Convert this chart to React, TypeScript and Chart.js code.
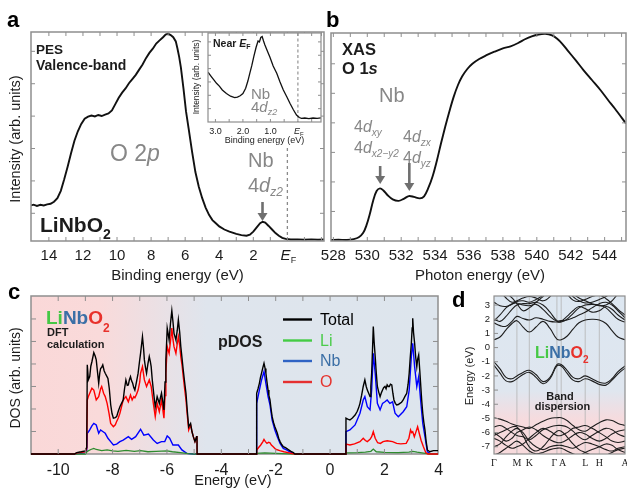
import React, { useEffect, useRef } from 'react';
import { Chart, registerables } from 'chart.js';

Chart.register(...registerables);

const W = 627;
const H = 494;
const SANS = '"Liberation Sans", Arial, Helvetica, sans-serif';
const SERIF = '"Liberation Serif", "Times New Roman", serif';
const INK = '#1c1c1c';
const GRAYTXT = '#878787';
const FRAME = '#8e8e8e';

type P = [number, number];

// ---------------- Panel a: PES valence band (binding energy eV, intensity) ----------------
const pesValence: P[] = [
  [15.05, 17.0], [14.9, 17.4], [14.7, 16.8], [14.5, 17.3], [14.3, 17.0], [14.1, 17.5], [13.9, 17.8],
  [13.7, 18.8], [13.5, 20.5], [13.3, 24], [13.1, 29.5], [12.9, 35.5], [12.7, 42], [12.5, 48],
  [12.3, 52.5], [12.1, 56], [11.9, 58.5], [11.7, 59.5], [11.5, 60], [11.3, 59.6], [11.1, 60.3],
  [10.9, 59.8], [10.7, 60.5], [10.5, 61], [10.3, 62.5], [10.1, 65.5], [9.9, 68.5], [9.7, 71],
  [9.5, 73], [9.3, 75.5], [9.1, 77.5], [8.9, 79.5], [8.7, 82], [8.5, 84.5], [8.3, 87.5], [8.1, 90],
  [7.9, 92], [7.7, 94.5], [7.5, 96], [7.3, 97.5], [7.15, 98.8], [7.0, 99.2], [6.85, 98.5], [6.7, 97.5],
  [6.55, 95.5], [6.45, 92], [6.35, 88], [6.25, 83], [6.1, 73], [5.95, 62], [5.8, 54], [5.6, 43],
  [5.4, 33], [5.2, 26], [5.0, 20.5], [4.8, 16], [4.6, 12.5], [4.4, 10], [4.2, 8.5], [4.0, 7],
  [3.7, 5.5], [3.4, 4.5], [3.0, 3.4], [2.7, 2.8], [2.4, 2.5], [2.2, 3.0], [2.0, 4.5], [1.8, 6.5],
  [1.6, 8.5], [1.45, 9.2], [1.3, 8.8], [1.1, 7.2], [0.9, 5.5], [0.7, 3.8], [0.5, 2.5], [0.3, 1.5],
  [0.1, 1.0], [-0.2, 0.7], [-0.6, 0.8], [-1.0, 0.6], [-1.4, 0.8], [-1.8, 0.6], [-2.15, 0.7],
];
const aTickLabels = [14, 12, 10, 8, 6, 4, 2];

// Inset: near E_F
const pesNearEF: P[] = [
  [3.27, 56], [3.15, 51], [3.05, 47], [2.96, 43.5], [2.85, 40], [2.75, 36], [2.6, 32], [2.45, 29],
  [2.3, 27.5], [2.2, 28], [2.1, 29.5], [2.0, 32], [1.9, 38], [1.82, 46], [1.75, 54.7], [1.68, 63],
  [1.6, 74], [1.52, 84], [1.45, 91], [1.4, 90], [1.35, 95], [1.3, 96], [1.25, 91], [1.2, 86.5],
  [1.1, 79], [1.02, 73], [0.9, 63], [0.77, 54.7], [0.65, 45], [0.53, 36], [0.4, 28], [0.29, 21],
  [0.17, 14], [0.05, 7.9], [-0.05, 5], [-0.13, 4], [-0.25, 4.5], [-0.4, 3.8], [-0.55, 4.5],
  [-0.7, 4], [-0.84, 4.6],
];
const insetTickLabels = [3, 2, 1];

// ---------------- Panel b: XAS O 1s ----------------
const xasO1s: P[] = [
  [527.86, 0.5], [528.3, 0.6], [528.8, 0.5], [529.2, 0.9], [529.5, 1.8], [529.75, 3.8], [529.95, 7.5],
  [530.15, 13], [530.35, 19.5], [530.55, 24], [530.75, 25.3], [530.95, 24.3], [531.2, 22], [531.5, 20],
  [531.85, 19.3], [532.15, 20.3], [532.45, 21.6], [532.75, 21.2], [533.1, 20.5], [533.35, 21.5],
  [533.6, 25.5], [533.85, 31], [534.1, 38.5], [534.35, 47], [534.6, 55], [534.85, 62.5], [535.1, 69.4],
  [535.35, 75], [535.6, 79.2], [535.9, 82.7], [536.2, 85.2], [536.6, 87.5], [537.0, 89.2], [537.5, 91],
  [538.0, 92.6], [538.45, 93.6], [538.9, 95.2], [539.3, 97], [539.7, 98.4], [540.1, 99.3], [540.5, 99.6],
  [540.9, 98.8], [541.2, 97.2], [541.5, 94.8], [541.8, 91.8], [542.3, 86.8], [542.75, 82.2],
  [543.25, 77.4], [543.75, 72.6], [544.2, 67.8], [544.6, 63.7], [545.26, 56.5],
];
const bTickLabels = [528, 530, 532, 534, 536, 538, 540, 542, 544];

// ---------------- Panel c: DFT pDOS ----------------
const dosTotal: P[] = [
  [-11, 0], [-9.4, 0], [-9.32, 0.06], [-9.15, 0.1], [-9.0, 0.14], [-8.95, 0.3], [-8.93, 3.96], [-8.89, 3.3],
  [-8.84, 3.44], [-8.8, 3.9], [-8.76, 4.1], [-8.69, 4.5], [-8.64, 4.35], [-8.6, 4.18], [-8.55, 3.6],
  [-8.51, 3.14], [-8.47, 3.6], [-8.44, 3.8], [-8.4, 3.85], [-8.36, 3.96], [-8.31, 3.7], [-8.27, 3.59],
  [-8.21, 3.45], [-8.17, 3.36], [-8.12, 2.9], [-8.07, 2.2], [-8.02, 1.8], [-7.97, 1.59], [-7.9, 1.62],
  [-7.85, 1.66], [-7.79, 1.9], [-7.73, 2.1], [-7.67, 2.25], [-7.61, 2.4], [-7.56, 2.9], [-7.51, 3.29],
  [-7.46, 3.05], [-7.42, 3.07], [-7.38, 3.3], [-7.34, 3.44], [-7.3, 3.25], [-7.26, 3.14], [-7.22, 2.95],
  [-7.18, 2.84], [-7.12, 3.2], [-7.06, 3.59], [-7.01, 4.1], [-6.97, 4.47], [-6.93, 4.9], [-6.9, 5.21],
  [-6.86, 4.7], [-6.83, 4.18], [-6.79, 3.85], [-6.75, 3.59], [-6.7, 4.0], [-6.65, 4.33], [-6.61, 4.1],
  [-6.58, 3.88], [-6.54, 3.3], [-6.5, 2.84], [-6.46, 2.4], [-6.43, 2.1], [-6.39, 2.35], [-6.36, 2.55],
  [-6.32, 2.4], [-6.28, 2.25], [-6.24, 2.5], [-6.2, 2.7], [-6.15, 2.3], [-6.11, 1.96], [-6.07, 3.2],
  [-6.04, 4.18], [-6.01, 5.0], [-5.99, 5.59], [-5.95, 5.3], [-5.92, 5.07], [-5.87, 5.8], [-5.82, 6.37],
  [-5.78, 5.9], [-5.74, 5.36], [-5.7, 5.2], [-5.67, 5.07], [-5.62, 5.5], [-5.58, 5.96], [-5.53, 5.4],
  [-5.49, 4.77], [-5.44, 4.2], [-5.4, 3.73], [-5.35, 3.2], [-5.3, 2.7], [-5.25, 1.9], [-5.2, 1.21],
  [-5.16, 1.3], [-5.13, 1.36], [-5.08, 1.0], [-5.03, 0.77], [-4.97, 0.55], [-4.91, 0.77], [-4.895, 0.8],
  [-4.89, 0], [-2.71, 0], [-2.7, 2.7], [-2.65, 2.9], [-2.6, 3.14], [-2.56, 3.4], [-2.52, 3.59],
  [-2.47, 3.85], [-2.43, 4.03], [-2.39, 3.8], [-2.36, 3.59], [-2.32, 3.2], [-2.28, 2.84], [-2.25, 2.6],
  [-2.21, 2.4], [-2.17, 2.0], [-2.13, 1.66], [-2.08, 1.4], [-2.03, 1.21], [-1.98, 1.05], [-1.94, 0.92],
  [-1.89, 0.7], [-1.84, 0.55], [-1.78, 0.42], [-1.72, 0.33], [-1.66, 0.3], [-1.6, 0.25], [-1.54, 0.2],
  [-1.48, 0.15], [-1.42, 0.1], [-1.35, 0.06], [-1.29, 0], [0.58, 0], [0.585, 1.59], [0.65, 1.55],
  [0.73, 1.51], [0.82, 1.6], [0.92, 1.73], [1.0, 1.9], [1.05, 2.05], [1.1, 2.25], [1.16, 2.6],
  [1.22, 3.0], [1.28, 3.29], [1.33, 3.0], [1.37, 2.84], [1.42, 2.7], [1.47, 2.55], [1.5, 3.0],
  [1.53, 3.59], [1.56, 4.6], [1.59, 5.66], [1.62, 5.0], [1.66, 4.33], [1.7, 3.6], [1.74, 3.0],
  [1.79, 2.75], [1.84, 2.55], [1.88, 2.7], [1.93, 2.84], [1.97, 2.95], [2.02, 3.0], [2.06, 2.9],
  [2.1, 3.07], [2.14, 3.0], [2.18, 3.0], [2.22, 3.1], [2.27, 3.07], [2.31, 2.7], [2.35, 2.4],
  [2.4, 2.25], [2.45, 2.18], [2.51, 2.2], [2.57, 2.25], [2.63, 2.3], [2.69, 2.4], [2.75, 2.55],
  [2.82, 2.7], [2.87, 3.1], [2.91, 3.59], [2.95, 4.3], [2.99, 4.92], [3.02, 5.6], [3.04, 6.03],
  [3.07, 5.4], [3.11, 4.92], [3.15, 4.3], [3.19, 3.88], [3.22, 4.2], [3.26, 4.4], [3.3, 3.7],
  [3.33, 3.14], [3.37, 2.4], [3.41, 1.81], [3.45, 1.4], [3.49, 1.07], [3.53, 0.6], [3.58, 0.18],
  [3.67, 0.1], [3.8, 0.15], [3.97, 0.15],
];
const dosO: P[] = [
  [-11, 0], [-9.4, 0], [-9.3, 0.05], [-9.0, 0.1], [-8.95, 0.25], [-8.93, 2.4], [-8.89, 2.55], [-8.84, 2.7],
  [-8.76, 2.92], [-8.69, 2.84], [-8.6, 2.4], [-8.51, 2.55], [-8.44, 2.9], [-8.4, 3.0], [-8.33, 2.7],
  [-8.27, 2.55], [-8.2, 2.25], [-8.13, 1.8], [-8.07, 1.36], [-7.97, 1.21], [-7.9, 1.3], [-7.85, 1.44],
  [-7.79, 1.6], [-7.73, 1.81], [-7.67, 2.1], [-7.61, 2.4], [-7.51, 2.55], [-7.42, 2.32], [-7.34, 2.62],
  [-7.28, 2.4], [-7.22, 2.55], [-7.18, 2.5], [-7.12, 2.65], [-7.06, 2.84], [-7.0, 3.2], [-6.97, 3.59],
  [-6.9, 3.88], [-6.83, 3.29], [-6.75, 3.0], [-6.65, 3.29], [-6.58, 3.0], [-6.5, 2.25], [-6.43, 1.66],
  [-6.36, 2.25], [-6.28, 1.88], [-6.2, 2.4], [-6.11, 1.59], [-6.07, 2.6], [-6.04, 3.59], [-5.99, 4.77],
  [-5.92, 4.47], [-5.87, 5.0], [-5.82, 5.59], [-5.78, 5.1], [-5.74, 4.77], [-5.67, 4.47], [-5.62, 4.9],
  [-5.58, 5.21], [-5.53, 4.8], [-5.49, 4.33], [-5.44, 3.9], [-5.4, 3.44], [-5.35, 2.9], [-5.3, 2.4],
  [-5.25, 1.7], [-5.2, 1.07], [-5.13, 1.29], [-5.08, 1.0], [-5.03, 0.77], [-4.97, 0.55], [-4.91, 0.77],
  [-4.895, 0.8], [-4.89, 0], [-2.71, 0], [-2.7, 0.18], [-2.62, 0.3], [-2.55, 0.4], [-2.47, 0.55],
  [-2.43, 0.65], [-2.38, 0.55], [-2.32, 0.47], [-2.26, 0.52], [-2.21, 0.5], [-2.16, 0.4], [-2.1, 0.33],
  [-2.0, 0.21], [-1.85, 0.15], [-1.7, 0.1], [-1.55, 0.06], [-1.4, 0.02], [-1.29, 0], [0.58, 0],
  [0.585, 0.44], [0.73, 0.4], [0.9, 0.45], [1.1, 0.55], [1.22, 0.7], [1.3, 0.6], [1.37, 0.55],
  [1.47, 0.65], [1.53, 0.77], [1.59, 0.99], [1.66, 0.7], [1.75, 0.5], [1.85, 0.47], [1.95, 0.55],
  [2.1, 0.59], [2.3, 0.55], [2.45, 0.47], [2.6, 0.45], [2.8, 0.47], [2.9, 0.7], [2.96, 1.07], [3.0, 0.95],
  [3.04, 0.99], [3.1, 0.77], [3.15, 0.95], [3.22, 1.21], [3.28, 0.92], [3.35, 0.6], [3.43, 0.33],
  [3.52, 0.06], [3.6, 0], [3.97, 0],
];
const dosNb: P[] = [
  [-11, 0], [-9.4, 0], [-9.0, 0.05], [-8.95, 0.15], [-8.93, 0.92], [-8.88, 1.0], [-8.84, 1.07],
  [-8.76, 1.25], [-8.69, 1.36], [-8.6, 1.29], [-8.51, 0.92], [-8.44, 1.07], [-8.36, 1.0], [-8.27, 0.92],
  [-8.17, 0.7], [-8.07, 0.55], [-7.97, 0.4], [-7.85, 0.44], [-7.73, 0.55], [-7.61, 0.62], [-7.42, 0.77],
  [-7.3, 0.65], [-7.15, 0.77], [-6.97, 1.1], [-6.85, 0.84], [-6.68, 0.89], [-6.5, 0.62], [-6.36, 0.47],
  [-6.2, 0.55], [-6.08, 0.55], [-5.99, 0.8], [-5.9, 0.7], [-5.78, 0.4], [-5.58, 0.4], [-5.45, 0.18],
  [-5.27, 0.03], [-5.0, 0], [-2.71, 0], [-2.7, 2.25], [-2.6, 2.84], [-2.52, 3.29], [-2.43, 3.66],
  [-2.36, 3.14], [-2.28, 2.55], [-2.21, 2.18], [-2.13, 1.51], [-2.03, 1.07], [-1.94, 0.77],
  [-1.84, 0.47], [-1.72, 0.25], [-1.6, 0.18], [-1.48, 0.1], [-1.35, 0.03], [-1.29, 0], [0.58, 0],
  [0.585, 0.99], [0.73, 1.07], [0.92, 1.29], [1.1, 1.81], [1.22, 2.4], [1.28, 2.55], [1.37, 2.1],
  [1.47, 1.96], [1.53, 2.84], [1.59, 4.47], [1.66, 3.59], [1.74, 2.25], [1.84, 1.96], [1.93, 2.25],
  [2.02, 2.32], [2.1, 2.4], [2.2, 2.25], [2.3, 2.32], [2.39, 1.81], [2.51, 1.66], [2.69, 1.88],
  [2.82, 2.1], [2.91, 2.84], [2.99, 4.33], [3.04, 4.92], [3.11, 3.88], [3.19, 3.0], [3.26, 3.44],
  [3.33, 2.4], [3.41, 1.36], [3.49, 0.77], [3.58, 0.1], [3.67, 0.03], [3.75, 0], [3.97, 0],
];
const dosLi: P[] = [
  [-11, 0], [-9.0, 0], [-8.93, 0.12], [-8.8, 0.2], [-8.69, 0.25], [-8.6, 0.2], [-8.4, 0.15], [-8.2, 0.18],
  [-8.0, 0.14], [-7.8, 0.12], [-7.5, 0.16], [-7.2, 0.12], [-6.97, 0.15], [-6.7, 0.1], [-6.4, 0.12],
  [-6.0, 0.14], [-5.8, 0.1], [-5.5, 0.06], [-5.2, 0.02], [-5.0, 0], [-2.71, 0], [-2.7, 0.03],
  [-2.4, 0.05], [-2.0, 0.03], [-1.5, 0.01], [-1.3, 0], [0.58, 0], [0.585, 0.05], [1.0, 0.06],
  [1.3, 0.08], [1.5, 0.12], [1.59, 0.22], [1.7, 0.1], [2.0, 0.07], [2.5, 0.06], [2.9, 0.08],
  [3.04, 0.12], [3.2, 0.08], [3.5, 0.03], [3.7, 0], [3.97, 0],
];
const cTickLabels = [-10, -8, -6, -4, -2, 0, 2, 4];
const legendNames = ['Total', 'Li', 'Nb', 'O'];

// ---------------- Panel d: band dispersion ----------------
const symPoints = [0, 22.9, 35.3, 62.9, 67.2, 91.2, 105.3, 131];
const symNames = ['Γ', 'M', 'K', 'Γ', 'A', 'L', 'H', 'A'];
const kPath = [0, 6, 12, 18, 22.9, 29, 35.3, 42, 49, 56, 62.9, 67.2, 73, 79, 85, 91.2, 98, 105.3, 112, 118, 124, 131];
const cb1 = [0.55, 0.75, 1.25, 1.7, 1.9, 1.45, 1.1, 1.45, 1.85, 1.35, 0.6, 0.55, 0.8, 1.3, 1.75, 1.95, 2.0, 1.95, 1.7, 1.2, 0.75, 0.55];
const cb2 = [1.75, 1.55, 1.5, 1.85, 2.2, 2.05, 1.95, 2.1, 2.0, 1.85, 1.8, 1.8, 2.0, 2.4, 2.8, 3.0, 3.05, 3.0, 2.8, 2.4, 2.0, 1.8];
const cb3 = [1.9, 2.3, 2.8, 3.1, 3.15, 3.0, 2.95, 3.05, 2.7, 2.2, 1.85, 1.85, 2.2, 2.6, 2.9, 2.75, 2.5, 2.6, 2.9, 2.7, 2.3, 1.95];
const cb4 = [2.0, 1.85, 2.2, 2.7, 3.0, 3.1, 3.1, 3.2, 3.0, 2.5, 1.9, 1.9, 1.95, 2.1, 2.3, 2.5, 2.8, 3.1, 3.2, 3.0, 2.6, 2.1];
const cb5 = [3.2, 2.95, 2.9, 3.05, 3.25, 3.3, 3.2, 3.4, 3.7, 4.2, 4.8, 4.8, 4.1, 3.6, 3.3, 3.15, 3.2, 3.4, 3.6, 3.9, 4.3, 4.8];
const cb6 = [4.5, 4.0, 3.5, 3.2, 3.3, 3.5, 3.6, 3.5, 3.3, 3.6, 4.3, 4.4, 3.8, 3.35, 3.25, 3.4, 3.6, 3.7, 3.45, 3.1, 2.7, 2.3];
const cb7 = [4.8, 4.4, 3.9, 3.5, 3.1, 2.6, 2.8, 3.2, 3.6, 4.1, 4.6, 4.6, 4.2, 3.8, 3.5, 3.3, 3.1, 2.95, 3.0, 3.3, 3.8, 4.4];
const nb1 = [-1.0, -1.5, -2.1, -2.2, -2.0, -1.75, -1.6, -1.9, -2.4, -2.1, -1.2, -1.2, -1.6, -2.1, -2.2, -2.0, -2.2, -2.45, -2.5, -2.2, -1.7, -1.3];
const nb2 = [-1.25, -1.8, -2.35, -2.4, -2.2, -1.9, -1.75, -2.1, -2.55, -2.2, -1.3, -1.3, -1.8, -2.3, -2.4, -2.2, -2.35, -2.6, -2.65, -2.3, -1.85, -1.45];
const vb1 = [-4.95, -5.05, -5.2, -5.4, -5.5, -5.6, -5.7, -5.45, -5.2, -5.0, -4.95, -4.95, -5.15, -5.5, -5.8, -5.9, -5.6, -5.3, -5.1, -5.15, -5.35, -5.5];
const vb2 = [-5.6, -5.5, -5.7, -6.0, -6.2, -6.3, -6.5, -6.2, -5.8, -5.6, -5.5, -5.5, -5.6, -5.9, -6.3, -6.5, -6.2, -5.9, -5.7, -5.8, -6.1, -6.3];
const vb3 = [-6.0, -6.3, -6.6, -6.4, -6.0, -5.8, -5.6, -5.8, -6.2, -6.5, -6.7, -6.7, -6.5, -6.2, -6.0, -6.1, -6.4, -6.6, -6.4, -6.1, -5.9, -5.8];
const vb4 = [-6.4, -6.6, -6.9, -7.1, -7.0, -6.8, -6.4, -6.0, -5.7, -5.9, -6.2, -6.2, -6.0, -5.7, -5.6, -5.5, -5.7, -6.0, -6.3, -6.6, -6.7, -6.6];
const vb5 = [-7.0, -6.8, -6.3, -5.9, -5.7, -6.0, -6.6, -7.0, -7.2, -7.0, -6.9, -6.9, -7.0, -7.1, -6.9, -6.7, -6.8, -7.0, -7.2, -7.3, -7.1, -7.0];
const vb6 = [-7.6, -7.4, -7.1, -6.8, -6.6, -6.9, -7.3, -7.5, -7.4, -7.2, -7.1, -7.1, -7.3, -7.5, -7.6, -7.4, -7.2, -7.0, -6.8, -6.9, -7.2, -7.4];
const vb7 = [-6.2, -6.0, -5.8, -5.6, -5.6, -6.2, -7.0, -7.3, -7.0, -6.4, -5.9, -5.9, -6.3, -6.8, -7.2, -7.4, -7.6, -7.7, -7.6, -7.4, -7.2, -7.1];
const bands = [cb1, cb2, cb3, cb4, cb5, cb6, cb7, nb1, nb2, vb1, vb2, vb3, vb4, vb5, vb6, vb7];
const dTickLabels = [3, 2, 1, 0, -1, -2, -3, -4, -5, -6, -7];

// ---------------- helpers ----------------
type Area = { l: number; t: number; r: number; b: number };
type Run = { t: string; s: number; b?: boolean; i?: boolean; c?: string; dy?: number; f?: string };

const fontOf = (p: Run) => `${p.i ? 'italic ' : ''}${p.b ? 'bold ' : ''}${p.s}px ${p.f || SANS}`;

function runs(ctx: CanvasRenderingContext2D, x: number, y: number, parts: Run[], align: 'left' | 'center' = 'left') {
  let total = 0;
  for (const p of parts) {
    ctx.font = fontOf(p);
    total += ctx.measureText(p.t).width;
  }
  let cx = align === 'center' ? x - total / 2 : x;
  ctx.textAlign = 'left';
  ctx.textBaseline = 'alphabetic';
  for (const p of parts) {
    ctx.font = fontOf(p);
    ctx.fillStyle = p.c || INK;
    ctx.fillText(p.t, cx, y + (p.dy || 0));
    cx += ctx.measureText(p.t).width;
  }
}

function vText(ctx: CanvasRenderingContext2D, text: string, x: number, y: number, size: number) {
  ctx.save();
  ctx.translate(x, y);
  ctx.rotate(-Math.PI / 2);
  ctx.font = `${size}px ${SANS}`;
  ctx.textAlign = 'center';
  ctx.textBaseline = 'middle';
  ctx.fillStyle = INK;
  ctx.fillText(text, 0, 0);
  ctx.restore();
}

function arrow(ctx: CanvasRenderingContext2D, x: number, y1: number, y2: number) {
  ctx.strokeStyle = '#6f6f6f';
  ctx.fillStyle = '#6f6f6f';
  ctx.lineWidth = 2.6;
  ctx.beginPath();
  ctx.moveTo(x, y1);
  ctx.lineTo(x, y2 - 6);
  ctx.stroke();
  ctx.beginPath();
  ctx.moveTo(x - 5, y2 - 8);
  ctx.lineTo(x + 5, y2 - 8);
  ctx.lineTo(x, y2);
  ctx.closePath();
  ctx.fill();
}

function frame(ctx: CanvasRenderingContext2D, a: any, w = 1.5) {
  ctx.strokeStyle = FRAME;
  ctx.lineWidth = w;
  ctx.strokeRect(a.left, a.top, a.right - a.left, a.bottom - a.top);
}

function steps(from: number, to: number, step: number) {
  const out: number[] = [];
  for (let v = from; v <= to + 1e-9; v += step) out.push(+v.toFixed(6));
  return out;
}

function ticksX(ctx: CanvasRenderingContext2D, scale: any, a: any, vals: number[], len: number, top = true) {
  ctx.strokeStyle = FRAME;
  ctx.lineWidth = 1;
  ctx.beginPath();
  for (const v of vals) {
    const x = scale.getPixelForValue(v);
    if (x < a.left + 1.5 || x > a.right - 1.5) continue;
    ctx.moveTo(x, a.bottom);
    ctx.lineTo(x, a.bottom - len);
    if (top) {
      ctx.moveTo(x, a.top);
      ctx.lineTo(x, a.top + len);
    }
  }
  ctx.stroke();
}

function ticksY(ctx: CanvasRenderingContext2D, scale: any, a: any, vals: number[], len: number, right = true) {
  ctx.strokeStyle = FRAME;
  ctx.lineWidth = 1;
  ctx.beginPath();
  for (const v of vals) {
    const y = scale.getPixelForValue(v);
    if (y < a.top + 1.5 || y > a.bottom - 1.5) continue;
    ctx.moveTo(a.left, y);
    ctx.lineTo(a.left + len, y);
    if (right) {
      ctx.moveTo(a.right, y);
      ctx.lineTo(a.right - len, y);
    }
  }
  ctx.stroke();
}

function xLabels(ctx: CanvasRenderingContext2D, scale: any, vals: number[], y: number, size: number, fmt = (v: number) => String(v)) {
  ctx.font = `${size}px ${SANS}`;
  ctx.textAlign = 'center';
  ctx.textBaseline = 'alphabetic';
  ctx.fillStyle = INK;
  for (const v of vals) ctx.fillText(fmt(v), scale.getPixelForValue(v), y);
}

const series = (data: P[], color: string, width: number, extra: any = {}) => ({
  data: data.map(([x, y]) => ({ x, y })),
  borderColor: color,
  borderWidth: width,
  pointRadius: 0,
  tension: 0,
  fill: false,
  clip: 0,
  ...extra,
});

function config(area: Area, x: { min: number; max: number; reverse?: boolean }, y: { min: number; max: number }, datasets: any[], deco: any) {
  return {
    type: 'line' as const,
    data: { datasets },
    options: {
      animation: false,
      responsive: false,
      devicePixelRatio: 1,
      events: [],
      layout: { padding: { left: area.l, top: area.t, right: W - area.r, bottom: H - area.b } },
      plugins: { legend: { display: false }, tooltip: { enabled: false } },
      elements: { point: { radius: 0 } },
      scales: {
        x: { type: 'linear', display: false, min: x.min, max: x.max, reverse: !!x.reverse },
        y: { type: 'linear', display: false, min: y.min, max: y.max },
      },
    },
    plugins: [deco],
  };
}

const liNbO2 = (size: number, sub: number, dy: number): Run[] => [
  { t: 'Li', s: size, b: true, c: '#45c845' },
  { t: 'Nb', s: size, b: true, c: '#3b6fa6' },
  { t: 'O', s: size, b: true, c: '#e8312b' },
  { t: '2', s: sub, b: true, c: '#e8312b', dy },
];

// ---------------- panel configs ----------------
function makeA() {
  const deco = {
    id: 'decoA',
    beforeDatasetsDraw(chart: any) {
      const { ctx, chartArea: a, scales } = chart;
      ctx.save();
      const xEF = scales.x.getPixelForValue(0);
      ctx.strokeStyle = '#8a8a8a';
      ctx.lineWidth = 1.3;
      ctx.setLineDash([3, 3]);
      ctx.beginPath();
      ctx.moveTo(xEF, 148);
      ctx.lineTo(xEF, a.bottom);
      ctx.stroke();
      ctx.setLineDash([]);
      ctx.restore();
    },
    afterDatasetsDraw(chart: any) {
      const { ctx, chartArea: a, scales } = chart;
      const xs = scales.x;
      ctx.save();
      frame(ctx, a);
      ticksX(ctx, xs, a, steps(-2, 15, 1), 4);
      ticksY(ctx, scales.y, a, steps(13.25, 100, 15.5), 4);
      xLabels(ctx, xs, aTickLabels, 259.5, 15);
      const x0 = xs.getPixelForValue(0);
      runs(ctx, x0 + 1, 259.5, [{ t: 'E', s: 15, i: true }, { t: 'F', s: 9, dy: 3 }], 'center');
      runs(ctx, (a.left + a.right) / 2, 280, [{ t: 'Binding energy (eV)', s: 15 }], 'center');
      vText(ctx, 'Intensity (arb. units)', 16, 139, 14.5);
      runs(ctx, 36, 54, [{ t: 'PES', s: 13.5, b: true }]);
      runs(ctx, 36, 70, [{ t: 'Valence-band', s: 14, b: true }]);
      runs(ctx, 110, 161, [{ t: 'O 2', s: 23, c: GRAYTXT }, { t: 'p', s: 23, i: true, c: GRAYTXT }]);
      runs(ctx, 248, 167, [{ t: 'Nb', s: 20, c: GRAYTXT }]);
      runs(ctx, 248, 192, [{ t: '4', s: 20, c: GRAYTXT }, { t: 'd', s: 20, i: true, c: GRAYTXT }, { t: 'z2', s: 12, i: true, c: GRAYTXT, dy: 4 }]);
      arrow(ctx, xs.getPixelForValue(1.46), 202, 221);
      runs(ctx, 40, 232, [{ t: 'LiNbO', s: 21, b: true }, { t: '2', s: 14, b: true, dy: 6.5 }]);
      runs(ctx, 7, 27, [{ t: 'a', s: 22, b: true, c: '#000' }]);
      ctx.restore();
    },
  };
  return config({ l: 31, t: 32, r: 324, b: 241 }, { min: -2.15, max: 15.05, reverse: true }, { min: 0, max: 100 },
    [series(pesValence, '#111', 1.9)], deco);
}

function makeInset() {
  const deco = {
    id: 'decoInset',
    beforeDatasetsDraw(chart: any) {
      const { ctx, chartArea: a, scales } = chart;
      ctx.save();
      ctx.fillStyle = '#fff';
      ctx.fillRect(a.left, a.top, a.right - a.left, a.bottom - a.top);
      const xEF = scales.x.getPixelForValue(0);
      ctx.strokeStyle = '#8a8a8a';
      ctx.lineWidth = 1.1;
      ctx.setLineDash([3, 2.5]);
      ctx.beginPath();
      ctx.moveTo(xEF, a.top);
      ctx.lineTo(xEF, a.bottom);
      ctx.stroke();
      ctx.setLineDash([]);
      ctx.restore();
    },
    afterDatasetsDraw(chart: any) {
      const { ctx, chartArea: a, scales } = chart;
      const xs = scales.x;
      ctx.save();
      frame(ctx, a, 1.2);
      ticksX(ctx, xs, a, steps(-0.5, 3, 0.5), 3);
      ticksY(ctx, scales.y, a, steps(15, 100, 15), 3);
      xLabels(ctx, xs, insetTickLabels, 134, 9, (v) => v.toFixed(1));
      runs(ctx, xs.getPixelForValue(0) + 1, 134, [{ t: 'E', s: 9, i: true }, { t: 'F', s: 6, dy: 2 }], 'center');
      runs(ctx, (a.left + a.right) / 2, 143, [{ t: 'Binding energy (eV)', s: 9 }], 'center');
      vText(ctx, 'Intensity (arb. units)', 197, 77, 8.5);
      runs(ctx, 213, 47, [{ t: 'Near ', s: 10.5, b: true }, { t: 'E', s: 10.5, b: true, i: true }, { t: 'F', s: 7, b: true, dy: 2 }]);
      runs(ctx, 251, 99, [{ t: 'Nb', s: 15, c: GRAYTXT }]);
      runs(ctx, 251, 112, [{ t: '4', s: 15, c: GRAYTXT }, { t: 'd', s: 15, i: true, c: GRAYTXT }, { t: 'z2', s: 9, i: true, c: GRAYTXT, dy: 3 }]);
      ctx.restore();
    },
  };
  return config({ l: 208, t: 33, r: 321, b: 122 }, { min: -0.84, max: 3.27, reverse: true }, { min: 0, max: 100 },
    [series(pesNearEF, '#111', 1.3)], deco);
}

function makeB() {
  const deco = {
    id: 'decoB',
    afterDatasetsDraw(chart: any) {
      const { ctx, chartArea: a, scales } = chart;
      const xs = scales.x;
      ctx.save();
      frame(ctx, a);
      ticksX(ctx, xs, a, steps(528, 545, 1), 4);
      ticksY(ctx, scales.y, a, steps(14.2, 100, 14.2), 4);
      xLabels(ctx, xs, bTickLabels, 259.5, 15);
      runs(ctx, 480, 280, [{ t: 'Photon energy (eV)', s: 15 }], 'center');
      runs(ctx, 342, 55, [{ t: 'XAS', s: 16.5, b: true }]);
      runs(ctx, 342, 74, [{ t: 'O 1', s: 16.5, b: true }, { t: 's', s: 16.5, b: true, i: true }]);
      runs(ctx, 379, 102, [{ t: 'Nb', s: 20, c: GRAYTXT }]);
      const g = GRAYTXT;
      runs(ctx, 354, 132, [{ t: '4', s: 16, c: g }, { t: 'd', s: 16, i: true, c: g }, { t: 'xy', s: 10, i: true, c: g, dy: 4 }]);
      runs(ctx, 354, 153, [{ t: '4', s: 16, c: g }, { t: 'd', s: 16, i: true, c: g }, { t: 'x2\u2212y2', s: 10, i: true, c: g, dy: 4 }]);
      runs(ctx, 403, 142, [{ t: '4', s: 16, c: g }, { t: 'd', s: 16, i: true, c: g }, { t: 'zx', s: 10, i: true, c: g, dy: 4 }]);
      runs(ctx, 403, 163, [{ t: '4', s: 16, c: g }, { t: 'd', s: 16, i: true, c: g }, { t: 'yz', s: 10, i: true, c: g, dy: 4 }]);
      arrow(ctx, xs.getPixelForValue(530.76), 166, 184);
      arrow(ctx, xs.getPixelForValue(532.48), 163, 191);
      runs(ctx, 326, 27, [{ t: 'b', s: 22, b: true, c: '#000' }]);
      ctx.restore();
    },
  };
  return config({ l: 331, t: 33, r: 626, b: 241 }, { min: 527.86, max: 545.26 }, { min: 0, max: 100 },
    [series(xasO1s, '#111', 1.9, { tension: 0.35 })], deco);
}

function makeC() {
  const deco = {
    id: 'decoC',
    beforeDatasetsDraw(chart: any) {
      const { ctx, chartArea: a } = chart;
      ctx.save();
      const g = ctx.createLinearGradient(a.left, 0, a.right, 0);
      g.addColorStop(0, 'rgb(250,216,216)');
      g.addColorStop(0.17, 'rgb(249,218,218)');
      g.addColorStop(0.43, 'rgb(223,229,237)');
      g.addColorStop(1, 'rgb(221,229,237)');
      ctx.fillStyle = g;
      ctx.fillRect(a.left, a.top, a.right - a.left, a.bottom - a.top);
      frame(ctx, a);
      ctx.restore();
    },
    afterDatasetsDraw(chart: any) {
      const { ctx, chartArea: a, scales } = chart;
      const xs = scales.x;
      ctx.save();
      ticksX(ctx, xs, a, steps(-11, 4, 1), 5);
      ticksY(ctx, scales.y, a, steps(1, 7, 1), 5);
      xLabels(ctx, xs, cTickLabels, 474.5, 16);
      runs(ctx, 233, 485, [{ t: 'Energy (eV)', s: 14.5 }], 'center');
      vText(ctx, 'DOS (arb. units)', 16, 378, 14);
      runs(ctx, 46, 323.5, liNbO2(19, 12, 8));
      runs(ctx, 47, 336, [{ t: 'DFT', s: 11, b: true }]);
      runs(ctx, 47, 348, [{ t: 'calculation', s: 11, b: true }]);
      runs(ctx, 218, 346.5, [{ t: 'pDOS', s: 16, b: true }]);
      const lineCols = ['#000000', '#44cc44', '#2f63c4', '#e53030'];
      const textCols = ['#000000', '#4ccc4c', '#3b6fa6', '#e5342e'];
      const ly = [319.5, 340.5, 361, 382];
      legendNames.forEach((n, i) => {
        ctx.strokeStyle = lineCols[i];
        ctx.lineWidth = 2.4;
        ctx.beginPath();
        ctx.moveTo(283, ly[i]);
        ctx.lineTo(312, ly[i]);
        ctx.stroke();
        ctx.font = `16px ${SANS}`;
        ctx.textAlign = 'left';
        ctx.textBaseline = 'middle';
        ctx.fillStyle = textCols[i];
        ctx.fillText(n, 320, ly[i] + 1);
      });
      runs(ctx, 8, 299, [{ t: 'c', s: 22, b: true, c: '#000' }]);
      ctx.restore();
    },
  };
  return config({ l: 31, t: 296, r: 438, b: 454 }, { min: -11.0, max: 3.97 }, { min: 0, max: 7.02 }, [
    series(dosTotal, '#000000', 1.4, { clip: 2 }),
    series(dosO, '#ff0000', 1.4, { clip: 2 }),
    series(dosLi, '#2e8b2e', 1.3, { clip: 2 }),
    series(dosNb, '#0000ff', 1.4, { clip: 2 }),
  ], deco);
}

function makeD() {
  const deco = {
    id: 'decoD',
    beforeDatasetsDraw(chart: any) {
      const { ctx, chartArea: a, scales } = chart;
      ctx.save();
      const g = ctx.createLinearGradient(0, a.top, 0, a.bottom);
      g.addColorStop(0, 'rgb(221,231,241)');
      g.addColorStop(0.6, 'rgb(223,230,239)');
      g.addColorStop(0.78, 'rgb(246,219,222)');
      g.addColorStop(1, 'rgb(247,218,220)');
      ctx.fillStyle = g;
      ctx.fillRect(a.left, a.top, a.right - a.left, a.bottom - a.top);
      ctx.strokeStyle = '#b4b4b4';
      ctx.lineWidth = 0.8;
      ctx.beginPath();
      for (const k of symPoints.slice(1, -1)) {
        const x = scales.x.getPixelForValue(k);
        ctx.moveTo(x, a.top);
        ctx.lineTo(x, a.bottom);
      }
      ctx.stroke();
      ctx.restore();
    },
    afterDatasetsDraw(chart: any) {
      const { ctx, chartArea: a, scales } = chart;
      const xs = scales.x;
      const ys = scales.y;
      ctx.save();
      frame(ctx, a, 1.2);
      ticksY(ctx, ys, a, dTickLabels, 4, false);
      ctx.font = `9.5px ${SANS}`;
      ctx.textAlign = 'right';
      ctx.textBaseline = 'middle';
      ctx.fillStyle = INK;
      for (const v of dTickLabels) ctx.fillText(String(v), 490, ys.getPixelForValue(v));
      ctx.font = `10px ${SERIF}`;
      ctx.textAlign = 'center';
      ctx.textBaseline = 'alphabetic';
      symPoints.forEach((k, i) => {
        let x = xs.getPixelForValue(k);
        if (i === 3) x -= 2.5;
        if (i === 4) x += 1.5;
        ctx.fillText(symNames[i], x, 465.5);
      });
      vText(ctx, 'Energy (eV)', 469.5, 376, 11);
      runs(ctx, 535, 357.5, liNbO2(16, 10, 5));
      runs(ctx, 560, 400, [{ t: 'Band', s: 11, b: true }], 'center');
      runs(ctx, 562.5, 409.5, [{ t: 'dispersion', s: 11, b: true }], 'center');
      runs(ctx, 452, 307, [{ t: 'd', s: 22, b: true, c: '#000' }]);
      ctx.restore();
    },
  };
  const ds = bands.map((b) => ({
    data: kPath.map((k, i) => ({ x: k, y: b[i] })),
    borderColor: '#1e1e1e',
    borderWidth: 1.1,
    pointRadius: 0,
    tension: 0.4,
    fill: false,
    clip: 0,
  }));
  return config({ l: 494, t: 296, r: 625, b: 454 }, { min: 0, max: 131 }, { min: -7.51, max: 3.64 }, ds, deco);
}

function ChartCanvas({ make }: { make: () => any }) {
  const ref = useRef<HTMLCanvasElement>(null);
  useEffect(() => {
    const chart = new Chart(ref.current as HTMLCanvasElement, make());
    return () => chart.destroy();
  }, [make]);
  return (
    <canvas
      ref={ref}
      width={W}
      height={H}
      style={{ position: 'absolute', left: 0, top: 0, width: W, height: H }}
    />
  );
}

export default function App() {
  return (
    <div style={{ position: 'absolute', left: 0, top: 0, width: W, height: H, background: '#fff', overflow: 'hidden' }}>
      <ChartCanvas make={makeA} />
      <ChartCanvas make={makeInset} />
      <ChartCanvas make={makeB} />
      <ChartCanvas make={makeC} />
      <ChartCanvas make={makeD} />
    </div>
  );
}
